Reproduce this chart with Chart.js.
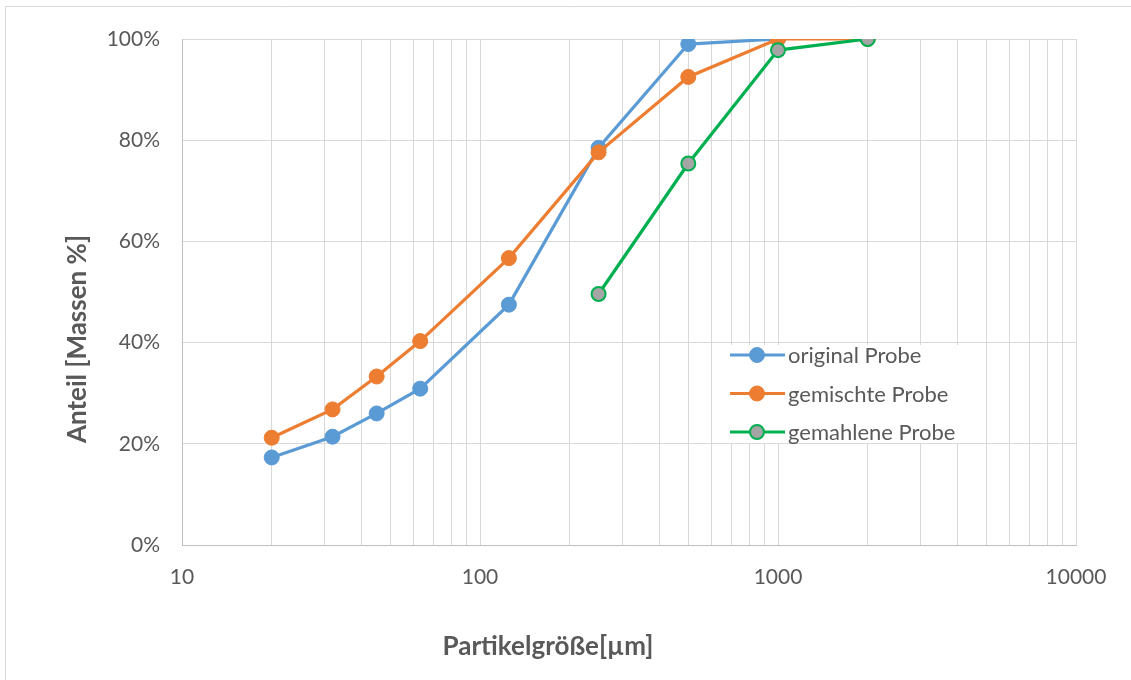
<!DOCTYPE html>
<html>
<head>
<meta charset="utf-8">
<script src="https://cdn.jsdelivr.net/npm/chart.js@4/dist/chart.umd.min.js"></script>
<style>
  html, body { margin: 0; padding: 0; background: #fff; }
  #wrap { width: 1131px; height: 680px; position: relative; }
</style>
</head>
<body>
<div id="wrap"><canvas id="c" width="1131" height="680"></canvas></div>
<script>
// Sieve sizes [µm] and cumulative mass share [%]
const sizesOriginal = [20, 32, 45, 63, 125, 250, 500, 1000];
const valuesOriginal = [17.3, 21.4, 26.0, 30.9, 47.5, 78.5, 99.0, 100];

const sizesGemischt = [20, 32, 45, 63, 125, 250, 500, 1000, 2000];
const valuesGemischt = [21.2, 26.8, 33.3, 40.3, 56.7, 77.6, 92.5, 100, 100];

const sizesGemahlen = [250, 500, 1000, 2000];
const valuesGemahlen = [49.6, 75.4, 97.8, 100];

const seriesLabels = ['original Probe', 'gemischte Probe', 'gemahlene Probe'];
const xTickLabels = [10, 100, 1000, 10000];
const yTickValues = [0, 20, 40, 60, 80, 100];
const xTitle = 'Partikelgröße[µm]';
const yTitle = 'Anteil [Massen %]';

const FONT = 'Lato, "Open Sans", "Liberation Sans", sans-serif';
const TEXT = '#595959';
const GRID = '#d9d9d9';

function pts(xs, ys) { return xs.map((x, i) => ({ x: x, y: ys[i] })); }

// White legend box inside the plot, drawn from the dataset styles
const innerLegend = {
  id: 'innerLegend',
  afterDraw(chart) {
    const ctx = chart.ctx;
    const bx = 712, by = 345, bw = 262, bh = 98;
    ctx.save();
    ctx.fillStyle = '#fff';
    ctx.fillRect(bx, by, bw, bh);
    chart.data.datasets.forEach((ds, i) => {
      const cy = 355 + i * 38.5;
      ctx.strokeStyle = ds.borderColor;
      ctx.lineWidth = 3;
      ctx.beginPath();
      ctx.moveTo(730, cy);
      ctx.lineTo(785, cy);
      ctx.stroke();
      ctx.beginPath();
      ctx.arc(757, cy, ds.pointRadius, 0, Math.PI * 2);
      ctx.fillStyle = ds.pointBackgroundColor;
      ctx.fill();
      ctx.lineWidth = ds.pointBorderWidth;
      ctx.strokeStyle = ds.pointBorderColor;
      ctx.stroke();
      ctx.fillStyle = TEXT;
      ctx.font = '22px ' + FONT;
      ctx.textBaseline = 'middle';
      ctx.textAlign = 'left';
      ctx.fillText(ds.label, 788, cy + 1);
    });
    ctx.restore();
  }
};

// Axis titles, placed independently of the plot centre
const axisTitles = {
  id: 'axisTitles',
  afterDraw(chart) {
    const ctx = chart.ctx;
    ctx.save();
    ctx.fillStyle = TEXT;
    ctx.font = 'bold 26px ' + FONT;
    ctx.textAlign = 'center';
    ctx.textBaseline = 'middle';
    ctx.fillText(xTitle, 548, 647);
    ctx.translate(78, 339);
    ctx.rotate(-Math.PI / 2);
    ctx.fillText(yTitle, 0, 0);
    ctx.restore();
  }
};

// Thin outer frame of the chart
const outerFrame = {
  id: 'outerFrame',
  beforeDraw(chart) {
    const ctx = chart.ctx;
    ctx.save();
    ctx.fillStyle = '#fff';
    ctx.fillRect(0, 0, chart.width, chart.height);
    ctx.strokeStyle = '#d9d9d9';
    ctx.lineWidth = 1;
    ctx.beginPath();
    ctx.moveTo(5.5, chart.height + 2);
    ctx.lineTo(5.5, 6.5);
    ctx.lineTo(chart.width + 2, 6.5);
    ctx.stroke();
    ctx.restore();
  }
};

new Chart(document.getElementById('c'), {
  type: 'line',
  data: {
    datasets: [
      {
        label: seriesLabels[0],
        data: pts(sizesOriginal, valuesOriginal),
        order: 3,
        borderColor: '#5B9BD5',
        pointBackgroundColor: '#5B9BD5',
        pointBorderColor: '#5B9BD5',
        pointBorderWidth: 1,
        borderWidth: 3.2,
        pointRadius: 7.5,
        tension: 0
      },
      {
        label: seriesLabels[1],
        data: pts(sizesGemischt, valuesGemischt),
        order: 2,
        borderColor: '#ED7D31',
        pointBackgroundColor: '#ED7D31',
        pointBorderColor: '#ED7D31',
        pointBorderWidth: 1,
        borderWidth: 3.2,
        pointRadius: 7.5,
        tension: 0
      },
      {
        label: seriesLabels[2],
        data: pts(sizesGemahlen, valuesGemahlen),
        order: 1,
        borderColor: '#00B050',
        pointBackgroundColor: '#A5A5A5',
        pointBorderColor: '#00B050',
        pointBorderWidth: 2,
        borderWidth: 3.2,
        pointRadius: 7,
        tension: 0
      }
    ]
  },
  options: {
    responsive: false,
    animation: false,
    layout: { padding: { left: 70, top: 39, right: 55, bottom: 20 } },
    plugins: {
      legend: { display: false },
      tooltip: { enabled: false }
    },
    scales: {
      x: {
        type: 'logarithmic',
        min: 10,
        max: 10000,
        afterBuildTicks(scale) {
          const t = [];
          for (let d = 10; d < 10000; d *= 10) {
            for (let m = 1; m < 10; m++) t.push({ value: d * m });
          }
          t.push({ value: 10000 });
          scale.ticks = t;
        },
        afterFit(scale) { scale.height = 115; },
        grid: { color: GRID, lineWidth: 1, drawTicks: false },
        border: { color: '#bfbfbf', width: 1 },
        ticks: {
          autoSkip: false,
          maxRotation: 0,
          padding: 20,
          color: TEXT,
          font: { family: FONT, size: 21 },
          callback(v) { return xTickLabels.includes(v) ? String(v) : ''; }
        }
      },
      y: {
        min: 0,
        max: 100,
        afterBuildTicks(scale) {
          scale.ticks = yTickValues.map(v => ({ value: v }));
        },
        afterFit(scale) { scale.width = 112; },
        grid: { color: GRID, lineWidth: 1, drawTicks: false },
        border: { color: '#bfbfbf', width: 1 },
        ticks: {
          padding: 22,
          color: TEXT,
          font: { family: FONT, size: 21 },
          callback(v) { return v + '%'; }
        }
      }
    }
  },
  plugins: [outerFrame, innerLegend, axisTitles]
});
</script>
</body>
</html>
